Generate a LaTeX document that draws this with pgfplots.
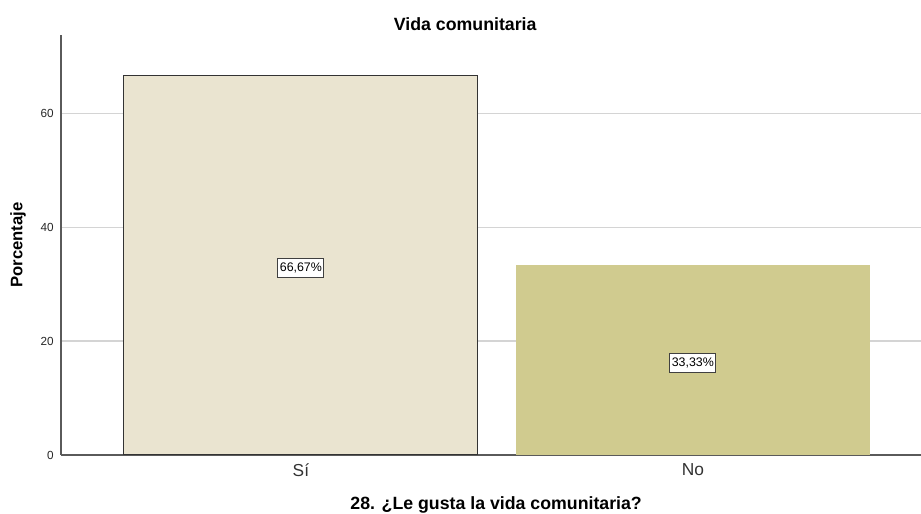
\documentclass[border=0pt]{standalone}
\usepackage{fontspec}
\setmainfont{Liberation Sans}
\usepackage{pgfplots}
\pgfplotsset{compat=1.18}
\usetikzlibrary{calc}
\definecolor{sifill}{HTML}{EAE4D0}
\definecolor{nofill}{HTML}{D0CB8F}
\definecolor{gridc}{HTML}{D4D4D4}
\definecolor{axisgray}{HTML}{5A5A5A}
\begin{document}
\begin{tikzpicture}
\begin{axis}[
 name=ax,
 scale only axis, width=645pt, height=315pt,
 xmin=-0.612, xmax=1.582, ymin=0, ymax=73.7,
 axis x line=bottom, axis y line=left,
 axis line style={-, draw=axisgray, line width=0.8pt},
 xtick={0,1}, xticklabels={Sí,No}, ytick={0,20,40,60},
 major tick length=0pt,
 ymajorgrids, grid style={draw=gridc, line width=0.8pt},
 /pgf/number format/assume math mode=true,
 yticklabel style={font=\fontsize{8.8}{10}\selectfont, text=black!85, xshift=-2pt},
 xticklabel style={font=\fontsize{13}{15}\selectfont, text=black!80, yshift=-3pt},
 title={Vida comunitaria},
 title style={font=\bfseries\fontsize{13.3}{15}\selectfont, at={(axis description cs:0.47,1.007)}, anchor=center},
 xlabel={28. ¿Le gusta la vida comunitaria?},
 xlabel style={font=\bfseries\fontsize{13.3}{15}\selectfont, at={(axis description cs:0.506,-0.12)}, anchor=center},
 ylabel={Porcentaje},
 ylabel style={font=\bfseries\fontsize{12.5}{15}\selectfont, at={(axis description cs:-0.05,0.5)}, anchor=center, rotate=0},
 nodes near coords={\pgfmathprintnumber[fixed,fixed zerofill,precision=2,use comma]{\pgfplotspointmeta}\%},
 visualization depends on={0.5*rawy \as \halfy},
 every node near coord/.append style={anchor=center, shift={(axis direction cs:0,-\halfy)}, yshift=-2.2pt, draw=black!75, fill=white, line width=0.7pt, inner xsep=1.5pt, inner ysep=3.5pt, font=\fontsize{9.3}{10}\selectfont, text=black},
]
\addplot[ybar, bar width=0.903, bar shift=0pt, fill=sifill, draw=black!80, line width=0.8pt] coordinates {(0,66.67)};
\addplot[ybar, bar width=0.903, bar shift=0pt, fill=nofill, draw=none] coordinates {(1,33.33)};
\end{axis}
\pgfresetboundingbox
\path[use as bounding box] ($(ax.south west)+(-45.75pt,-44.25pt)$) rectangle ($(ax.north east)+(0pt,26.25pt)$);
\end{tikzpicture}
\end{document}
